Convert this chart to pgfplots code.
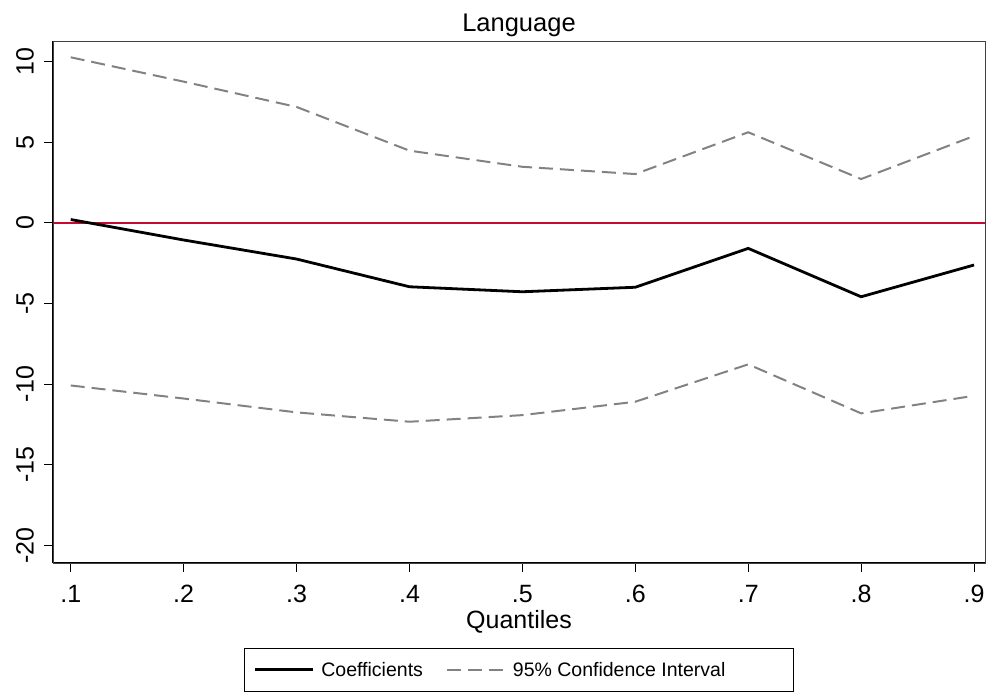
\documentclass[border=0pt]{standalone}
\usepackage{pgfplots}
\pgfplotsset{compat=1.18}
\usepackage{fontspec}
\setmainfont{Liberation Sans}
\definecolor{statared}{RGB}{200,10,50}
\definecolor{cigray}{RGB}{130,130,130}
\begin{document}
\begin{tikzpicture}
\begin{axis}[
  scale only axis,
  width=932pt, height=522pt,
  xmin=0.0843, xmax=0.9097,
  ymin=-21.1, ymax=11.27,
  xtick={0.1,0.2,0.3,0.4,0.5,0.6,0.7,0.8,0.9},
  xticklabels={.1,.2,.3,.4,.5,.6,.7,.8,.9},
  ytick={-20,-15,-10,-5,0,5,10},
  /pgf/number format/assume math mode=true,
  yticklabel style={rotate=90, anchor=south, inner sep=0pt, font=\fontsize{25}{27}\selectfont},
  yticklabel shift=10pt,
  xticklabel style={font=\fontsize{25}{27}\selectfont, inner sep=0pt},
  xticklabel shift=13pt,
  axis x line*=bottom, axis y line*=left,
  axis line style={line width=1.4pt, black, -},
  tick align=outside,
  major tick length=9pt,
  tick style={black, line width=1pt},
  title={Language},
  title style={font=\fontsize{25.5}{27}\selectfont, yshift=-5pt},
  xlabel={Quantiles},
  xlabel style={font=\fontsize{25}{27}\selectfont, inner sep=0pt, yshift=-7pt},
  legend columns=2,
  legend cell align=left,
  legend style={at={(0.5,-0.163)}, anchor=north, draw=black, line width=0.6pt,
    font=\fontsize{19.5}{21}\selectfont, inner xsep=9pt, inner ysep=11.5pt,
    nodes={inner xsep=7pt},
    /tikz/every even column/.append style={column sep=16pt}},
  legend image code/.code={\draw[#1] (0pt,0pt) -- (58pt,0pt);},
  after end axis/.code={\draw[darkgray, line width=0.9pt] (rel axis cs:0,0) rectangle (rel axis cs:1,1);},
  clip=false,
]
\addplot[draw=statared, line width=1.8pt, forget plot] coordinates {(0.0843,0) (0.9097,0)};
\addplot[black, line width=2.8pt] coordinates {
(0.1,0.2) (0.2,-1.07) (0.3,-2.25) (0.4,-3.97) (0.5,-4.28) (0.6,-4.0) (0.7,-1.59) (0.8,-4.59) (0.9,-2.62)};
\addlegendentry{Coefficients}
\addplot[cigray, line width=2pt, dash pattern=on 14pt off 7pt] coordinates {
(0.1,10.26) (0.2,8.75) (0.3,7.18) (0.4,4.47) (0.5,3.47) (0.6,3.02) (0.7,5.61) (0.8,2.71) (0.9,5.38)};
\addlegendentry{95\% Confidence Interval\hspace*{52pt}}
\addplot[cigray, line width=2pt, dash pattern=on 14pt off 7pt, forget plot] coordinates {
(0.1,-10.09) (0.2,-10.9) (0.3,-11.76) (0.4,-12.34) (0.5,-11.93) (0.6,-11.1) (0.7,-8.78) (0.8,-11.82) (0.9,-10.73)};
\end{axis}
\pgfresetboundingbox
\path (current axis.south west) ++(-53pt,-132pt) coordinate (bbA);
\path (current axis.north east) ++(2pt,41pt) coordinate (bbB);
\useasboundingbox (bbA) rectangle (bbB);
\end{tikzpicture}
\end{document}
